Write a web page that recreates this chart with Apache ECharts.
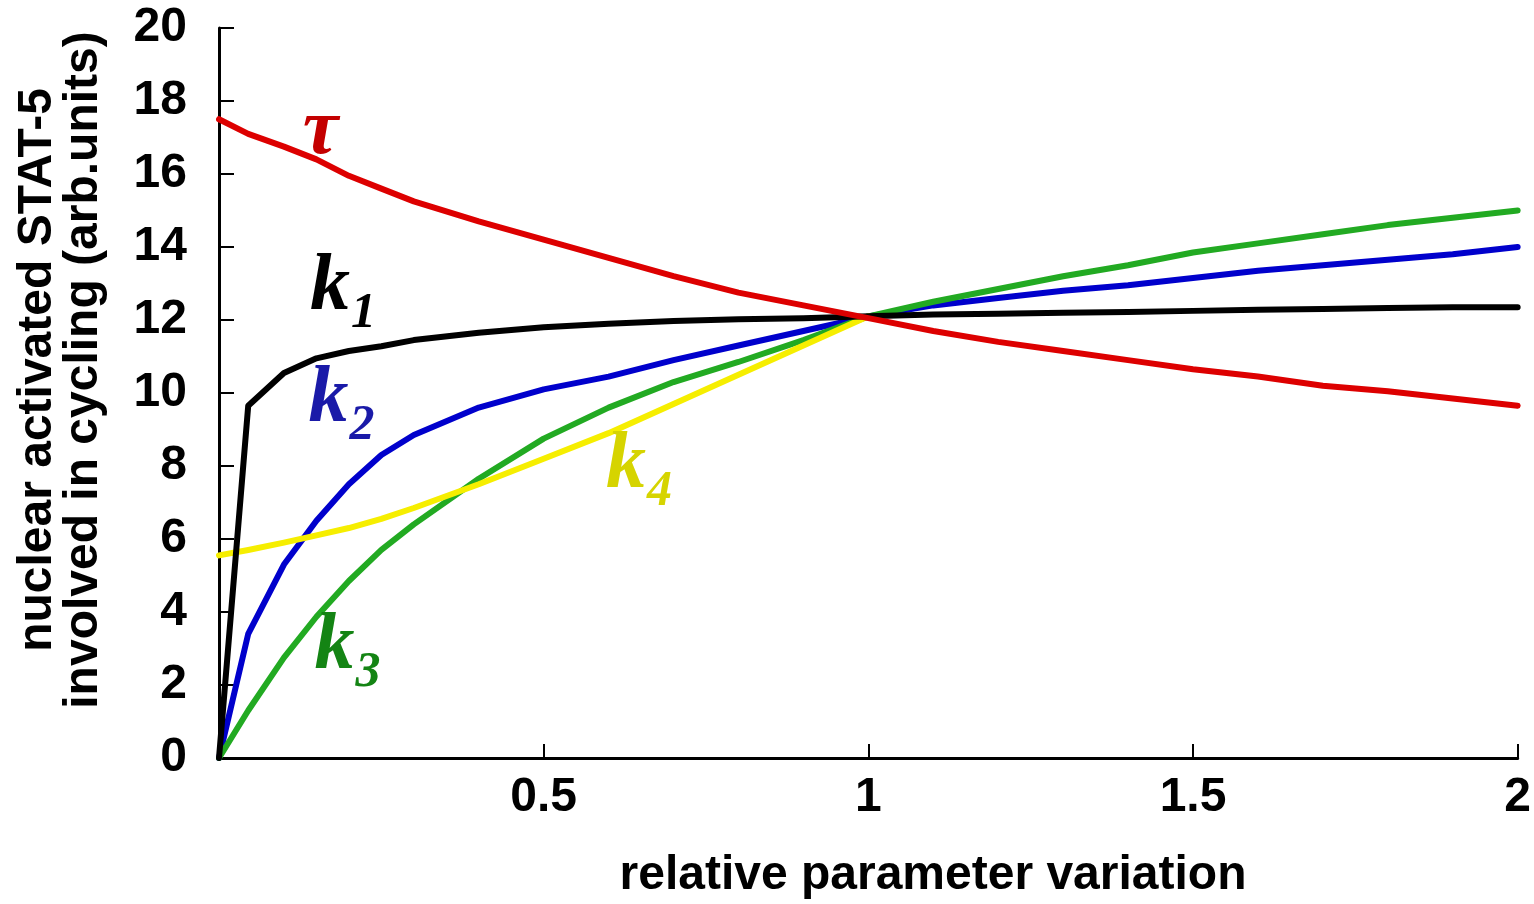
<!DOCTYPE html>
<html>
<head>
<meta charset="utf-8">
<script src="https://cdn.jsdelivr.net/npm/echarts@6/dist/echarts.min.js"></script>
<style>
html,body{margin:0;padding:0;background:#fff;}
#chart{width:1534px;height:904px;}
</style>
</head>
<body>
<div id="chart"></div>
<script>
// ---- data ----
const xs   = [0, 0.045, 0.1, 0.15, 0.2, 0.25, 0.3, 0.4, 0.5, 0.6, 0.7, 0.8, 0.9, 1.0, 1.1, 1.2, 1.3, 1.4, 1.5, 1.6, 1.7, 1.8, 1.9, 2.0];
const tau  = [17.5, 17.1, 16.75, 16.4, 15.95, 15.6, 15.25, 14.7, 14.2, 13.7, 13.2, 12.75, 12.4, 12.05, 11.7, 11.4, 11.15, 10.9, 10.65, 10.45, 10.2, 10.05, 9.85, 9.65];
const k1   = [0, 9.65, 10.55, 10.95, 11.15, 11.28, 11.45, 11.65, 11.8, 11.9, 11.97, 12.02, 12.05, 12.1, 12.15, 12.17, 12.2, 12.22, 12.25, 12.28, 12.3, 12.33, 12.35, 12.35];
const k2   = [0, 3.4, 5.3, 6.5, 7.5, 8.3, 8.85, 9.6, 10.1, 10.45, 10.9, 11.3, 11.7, 12.1, 12.4, 12.6, 12.8, 12.95, 13.15, 13.35, 13.5, 13.65, 13.8, 14.0];
const k3   = [0, 1.3, 2.75, 3.87, 4.85, 5.7, 6.4, 7.65, 8.75, 9.6, 10.3, 10.85, 11.45, 12.1, 12.5, 12.85, 13.2, 13.5, 13.85, 14.1, 14.35, 14.6, 14.8, 15.0];
const k4   = [5.55, 5.7, 5.9, 6.1, 6.3, 6.55, 6.85, 7.5, 8.2, 8.9, 9.7, 10.5, 11.3, 12.1];
const xTickLabels = ['0.5', '1', '1.5', '2'];
const yTitle = ['nuclear activated STAT-5', 'involved in cycling (arb.units)'];
const xTitle = 'relative parameter variation';

// curve annotations: main symbol, subscript, anchor (data coords)
const annNames = ['τ', 'k', 'k', 'k', 'k'];
const annSubs  = ['', '1', '2', '3', '4'];
const annX     = [0.129, 0.14, 0.138, 0.147, 0.596];
const annY     = [16.4, 12.14, 9.07, 2.3, 7.26];

// ---- styles ----
const lineColors = {tau:'#dd0000', k1:'#000000', k2:'#0000cc', k3:'#22aa22', k4:'#f6ee00'};
const annColors  = ['#c40000', '#000000', '#1a1aa8', '#148414', '#d6d400'];

function pairs(x, y){ return y.map((v,i)=>[x[i], v]); }

const chart = echarts.init(document.getElementById('chart'), null, {renderer:'canvas'});
const sansBold = {fontFamily:'Liberation Sans', fontWeight:'bold', fontSize:48, color:'#000'};

const mk = (name, data, color) => ({
  name, type:'line', data, showSymbol:false, symbol:'none', smooth:false,
  lineStyle:{color, width:6, join:'round', cap:'round'}, itemStyle:{color}, animation:false
});

chart.setOption({
  animation:false,
  backgroundColor:'#fff',
  grid:{left:219, right:13, top:28, bottom:146, containLabel:false},
  xAxis:{
    type:'value', min:0, max:2, interval:0.5,
    axisLine:{show:true, onZero:false, lineStyle:{color:'#000', width:3}},
    axisTick:{show:true, inside:true, length:14, lineStyle:{color:'#000', width:2}},
    splitLine:{show:false},
    axisLabel:Object.assign({margin:16, formatter:(v)=>{
      const i = Math.round(v/0.5) - 1; return i>=0 ? xTickLabels[i] : '';
    }}, sansBold)
  },
  yAxis:{
    type:'value', min:0, max:20, interval:2,
    axisLine:{show:true, lineStyle:{color:'#000', width:3}},
    axisTick:{show:true, inside:true, length:15, lineStyle:{color:'#000', width:2}},
    splitLine:{show:false},
    axisLabel:Object.assign({margin:32}, sansBold)
  },
  series:[
    mk('k2', pairs(xs,k2), lineColors.k2),
    mk('k3', pairs(xs,k3), lineColors.k3),
    mk('k4', pairs(xs,k4), lineColors.k4),
    mk('k1', pairs(xs,k1), lineColors.k1),
    mk('tau', pairs(xs,tau), lineColors.tau)
  ]
});

// annotations placed from data coordinates
const g = [];
annNames.forEach((n,i)=>{
  const p = chart.convertToPixel({gridIndex:0}, [annX[i], annY[i]]);
  g.push({type:'text', x:p[0], y:p[1]-27, z:100, style:{
    text:n, fill:annColors[i], font:'italic bold 80px "Liberation Serif"',
    textAlign:'left', textVerticalAlign:'middle'}});
  if (annSubs[i]) {
    g.push({type:'text', x:p[0]+41, y:p[1]+16-17, z:100, style:{
      text:annSubs[i], fill:annColors[i], font:'italic bold 50px "Liberation Serif"',
      textAlign:'left', textVerticalAlign:'middle'}});
  }
});
// axis titles
g.push({type:'text', x:61, y:370, rotation:Math.PI/2, z:100, style:{
  text:yTitle.join('\n'), fill:'#000', font:'bold 48px "Liberation Sans"',
  lineHeight:46, textAlign:'center', textVerticalAlign:'middle'}});
g.push({type:'text', x:933, y:876, z:100, style:{
  text:xTitle, fill:'#000', font:'bold 48px "Liberation Sans"',
  textAlign:'center', textVerticalAlign:'middle'}});
chart.setOption({graphic:g});
</script>
</body>
</html>
